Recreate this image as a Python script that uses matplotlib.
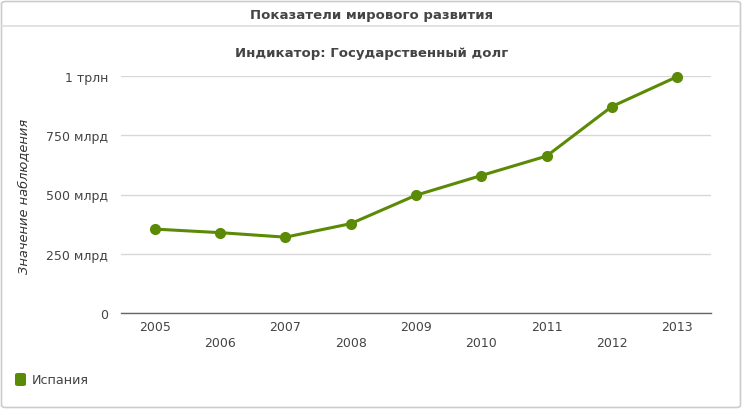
import matplotlib
matplotlib.use("Agg")
import matplotlib.pyplot as plt
from matplotlib.patches import FancyBboxPatch
from matplotlib.lines import Line2D

years = ["2005", "2006", "2007", "2008", "2009", "2010", "2011", "2012", "2013"]
spain_debt_bn = [354, 339, 320, 377, 497, 580, 662, 871, 997]
y_ticks = [0, 250, 500, 750, 1000]
y_tick_labels = ["0", "250 млрд", "500 млрд", "750 млрд", "1 трлн"]
series_name = "Испания"
header = "Показатели мирового развития"
title = "Индикатор: Государственный долг"
y_label = "Значение наблюдения"

W, H = 743, 410
fig = plt.figure(figsize=(W / 100, H / 100), dpi=100)
fig.patch.set_facecolor("white")

# outer frame
frame = FancyBboxPatch((1.5 / W, 1.5 / H), (W - 4) / W, (H - 4) / H,
                       boxstyle="round,pad=0,rounding_size=0.006",
                       transform=fig.transFigure, facecolor="none",
                       edgecolor="#cccccc", linewidth=1.2)
fig.add_artist(frame)
fig.add_artist(Line2D([1.5 / W, (W - 2) / W], [1 - 27 / H, 1 - 27 / H],
                      transform=fig.transFigure, color="#dddddd", linewidth=1.2))

fig.text(372 / W, 1 - 15 / H, header, ha="center", va="center",
         fontsize=9.5, fontweight="bold", color="#444444")

green = "#5b8a06"
ax = fig.add_axes([121 / W, 1 - 314 / H, (711 - 121) / W, (314 - 77) / H])
x = list(range(len(years)))
ax.plot(x, spain_debt_bn, color=green, linewidth=2.2, marker="o",
        markersize=7, zorder=3, clip_on=False)
ax.set_xlim(-0.52, len(years) - 1 + 0.52)
ax.set_ylim(0, 1000)
ax.set_yticks(y_ticks)
ax.set_yticklabels(y_tick_labels, fontsize=9, color="#444444")
ax.tick_params(axis="y", length=0, pad=9.4)
ax.set_xticks(x)
ax.set_xticklabels(years, fontsize=9, color="#444444")
ax.tick_params(axis="x", length=0, pad=5)
for i, lab in enumerate(ax.get_xticklabels()):
    if i % 2 == 1:
        lab.set_y(-0.068)
ax.grid(axis="y", color="#d8d8d8", linewidth=1)
ax.set_axisbelow(True)
for s in ["top", "right", "left"]:
    ax.spines[s].set_visible(False)
ax.spines["bottom"].set_color("#666666")
ax.spines["bottom"].set_linewidth(1)

fig.text(372 / W, 1 - 53 / H, title, ha="center", va="center",
         fontsize=9.5, fontweight="bold", color="#444444")
fig.text(24 / W, 1 - 196 / H, y_label, ha="center", va="center",
         rotation=90, fontsize=9.4, fontstyle="italic", color="#333333")

# legend
fig.add_artist(FancyBboxPatch((15 / W, 1 - 387 / H), 11 / W, 13 / H,
                              boxstyle="round,pad=0,rounding_size=0.004",
                              transform=fig.transFigure, facecolor=green,
                              edgecolor="none"))
fig.text(32 / W, 1 - 381 / H, series_name, ha="left", va="center",
         fontsize=9.2, color="#444444")

fig.savefig("out.png", dpi=100)
